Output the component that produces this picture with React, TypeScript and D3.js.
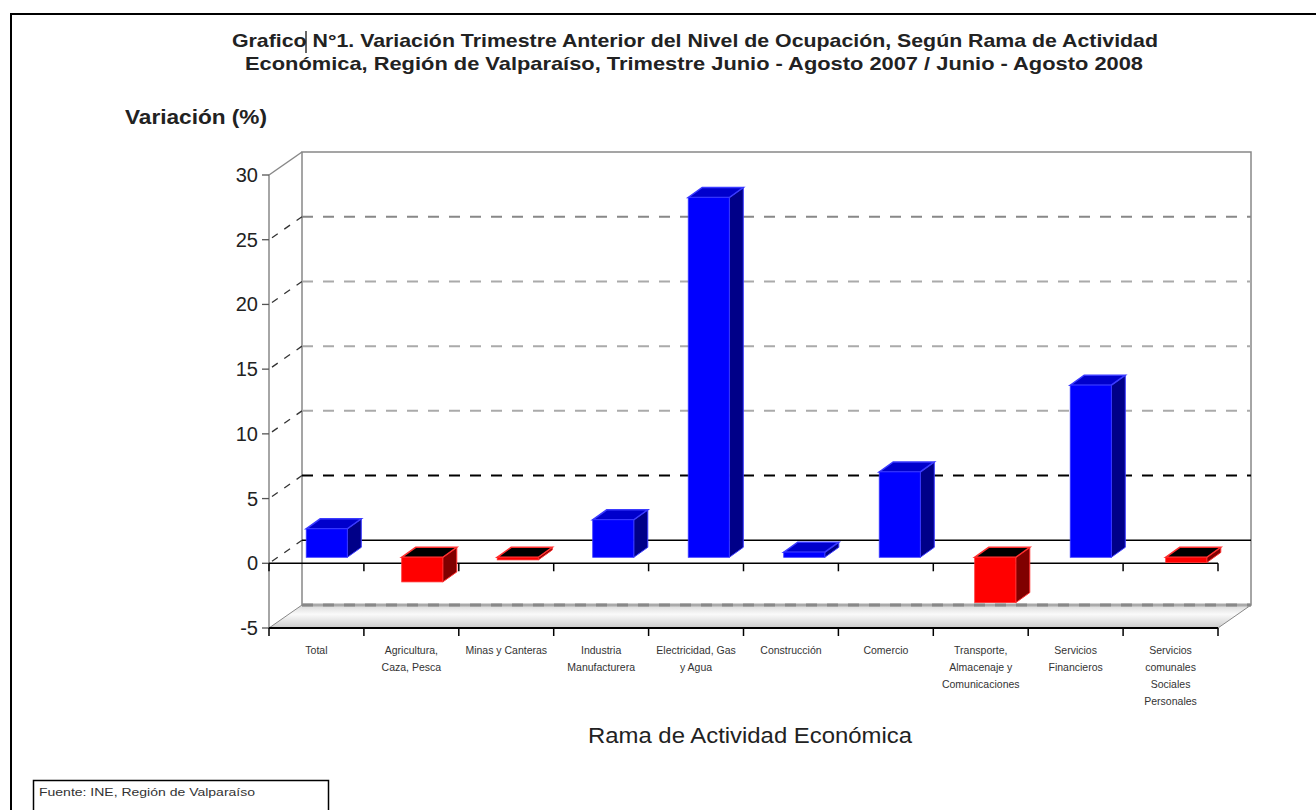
import React from 'react';
import * as d3 from 'd3';

const categories = [
  'Total', 'Agricultura', 'Minas', 'Industria', 'Electricidad',
  'Construccion', 'Comercio', 'Transporte', 'Financieros', 'Comunales',
];
const labelLines = [
  ['Total'],
  ['Agricultura,', 'Caza, Pesca'],
  ['Minas y Canteras'],
  ['Industria', 'Manufacturera'],
  ['Electricidad, Gas', 'y Agua'],
  ['Construcción'],
  ['Comercio'],
  ['Transporte,', 'Almacenaje y', 'Comunicaciones'],
  ['Servicios', 'Financieros'],
  ['Servicios', 'comunales', 'Sociales', 'Personales'],
];
const values = [2.2, -1.9, -0.2, 2.9, 27.8, 0.4, 6.6, -3.5, 13.3, -0.4];
const yTicks = [-5, 0, 5, 10, 15, 20, 25, 30];
const gridLines = [25, 20, 15, 10, 5];
const titleLines = [
  'Grafico N°1. Variación Trimestre Anterior del Nivel de Ocupación, Según Rama de Actividad',
  'Económica, Región de Valparaíso, Trimestre Junio - Agosto 2007 / Junio - Agosto 2008',
];

const FONT = '"Liberation Sans", Arial, sans-serif';
// oblique depth of the 3d box
const DX = 33;
const DY = -23;

export default function App() {
  const y = d3.scaleLinear().domain([-5, 30]).range([628, 175]);
  const x = d3.scaleBand().domain(categories).range([269, 1218]);
  // bars sit a bit into the depth of the box
  const xBar = d3.scaleBand().domain(categories).range([279, 1234]);
  const yBar = (v: number) => y(v) + DY * 0.26;
  const barW = xBar.bandwidth() * 0.43;
  const bdx = 14;
  const bdy = -10;

  const x0 = x.range()[0];
  const x1 = x.range()[1];
  const yTop = y(30);
  const yBot = y(-5);
  const yZero = y(0);
  const ticksX = categories.map((c) => x(c) as number).concat([x1]);

  const pts = (p: number[][]) => p.map((q) => q.join(',')).join(' ');

  return (
    <svg width={1316} height={810} style={{ position: 'absolute', left: 0, top: 0, background: '#fff' }}>
      <defs>
        <linearGradient id="floorGrad" x1="0" y1="0" x2="0" y2="1">
          <stop offset="0%" stopColor="#d8d8d8" />
          <stop offset="40%" stopColor="#fafafa" />
          <stop offset="100%" stopColor="#cccccc" />
        </linearGradient>
      </defs>

      {/* frame */}
      <line x1={10} y1={14} x2={1316} y2={14} stroke="#000" strokeWidth={2} />
      <line x1={11} y1={14} x2={11} y2={810} stroke="#000" strokeWidth={2} />

      {/* title */}
      <text x={232} y={47} fontFamily={FONT} fontSize={18.5} fontWeight="bold" fill="#222"
        textLength={926} lengthAdjust="spacingAndGlyphs">{titleLines[0]}</text>
      <text x={245} y={70} fontFamily={FONT} fontSize={18.5} fontWeight="bold" fill="#222"
        textLength={898} lengthAdjust="spacingAndGlyphs">{titleLines[1]}</text>
      <line x1={306} y1={31} x2={306} y2={53} stroke="#000" strokeWidth={1.2} />

      <text x={125} y={124} fontFamily={FONT} fontSize={20} fontWeight="bold" fill="#222"
        textLength={142} lengthAdjust="spacingAndGlyphs">Variación (%)</text>

      {/* back wall */}
      <rect x={x0 + DX} y={yTop + DY} width={x1 - x0} height={yBot - yTop} fill="#fff" stroke="#888" strokeWidth={1.5} />
      {gridLines.map((v) => (
        <line key={v} x1={x0 + DX} x2={x1 + DX} y1={y(v) + DY} y2={y(v) + DY}
          stroke={v === 5 ? '#000' : v === 25 ? '#888' : '#aaa'} strokeWidth={2} strokeDasharray="11,10" />
      ))}
      <line x1={x0 + DX} x2={x1 + DX} y1={yZero + DY} y2={yZero + DY} stroke="#000" strokeWidth={1.5} />

      {/* left wall */}
      <line x1={x0} y1={yTop} x2={x0 + DX} y2={yTop + DY} stroke="#888" strokeWidth={1.5} />
      <line x1={x0} y1={yTop} x2={x0} y2={yBot} stroke="#888" strokeWidth={1.5} />
      {yTicks.filter((v) => v > -5 && v < 30).map((v) => (
        <line key={v} x1={x0 + 3} y1={y(v) - 2} x2={x0 + DX} y2={y(v) + DY}
          stroke="#333" strokeWidth={1.3} strokeDasharray="7,8" />
      ))}

      {/* floor */}
      <polygon points={pts([[x0, yBot], [x1, yBot], [x1 + DX, yBot + DY], [x0 + DX, yBot + DY]])}
        fill="url(#floorGrad)" stroke="#888" strokeWidth={1} />
      <line x1={x0 + DX} x2={x1 + DX} y1={yBot + DY} y2={yBot + DY} stroke="#aaa" strokeWidth={3} />
      <line x1={x0 + DX} x2={x1 + DX} y1={yBot + DY} y2={yBot + DY} stroke="#888" strokeWidth={3} strokeDasharray="11,10" />

      {/* y ticks */}
      {yTicks.map((v) => (
        <g key={v}>
          <line x1={x0 - 7} x2={x0} y1={y(v)} y2={y(v)} stroke="#555" strokeWidth={1.3} />
          <text x={258} y={y(v) + 7} textAnchor="end" fontFamily={FONT} fontSize={20} fill="#222">{v}</text>
        </g>
      ))}

      {/* front zero axis and bottom axis */}
      <line x1={x0} x2={x1} y1={yZero} y2={yZero} stroke="#000" strokeWidth={1.5} />
      <line x1={x0} x2={x1} y1={yBot} y2={yBot} stroke="#000" strokeWidth={1.8} />
      {ticksX.map((tx, i) => (
        <g key={i}>
          <line x1={tx} x2={tx} y1={yZero} y2={yZero + 8} stroke="#000" strokeWidth={1.5} />
          <line x1={tx} x2={tx} y1={yBot} y2={yBot + 8} stroke="#000" strokeWidth={1.5} />
        </g>
      ))}

      {/* bars */}
      {categories.map((c, i) => {
        const v = values[i];
        const pos = v >= 0;
        const bx0 = (xBar(c) as number) + (xBar.bandwidth() - barW) / 2;
        const bx1 = bx0 + barW;
        const top = Math.min(yBar(0), yBar(v));
        const bot = Math.max(yBar(0), yBar(v));
        const front = pos ? '#0000ff' : '#ff0000';
        const side = pos ? '#000088' : '#800000';
        const lid = pos ? '#0000cc' : '#000000';
        const edge = pos ? '#3a3aff' : '#ff3030';
        return (
          <g key={c}>
            <polygon points={pts([[bx1, top], [bx1 + bdx, top + bdy], [bx1 + bdx, bot + bdy], [bx1, bot]])}
              fill={side} stroke={edge} strokeWidth={1} />
            <polygon points={pts([[bx0, top], [bx1, top], [bx1 + bdx, top + bdy], [bx0 + bdx, top + bdy]])}
              fill={lid} stroke={edge} strokeWidth={1.5} />
            <rect x={bx0} y={top} width={barW} height={Math.max(bot - top, 1)} fill={front} stroke={edge} strokeWidth={0.8} />
          </g>
        );
      })}

      {/* category labels */}
      {categories.map((c, i) => (
        <text key={c} x={(x(c) as number) + x.bandwidth() / 2} y={654} textAnchor="middle"
          fontFamily={FONT} fontSize={10.5} fill="#333">
          {labelLines[i].map((l, j) => (
            <tspan key={j} x={(x(c) as number) + x.bandwidth() / 2} dy={j === 0 ? 0 : 17}>{l}</tspan>
          ))}
        </text>
      ))}

      <text x={588} y={743} fontFamily={FONT} fontSize={22} fill="#222"
        textLength={324} lengthAdjust="spacingAndGlyphs">Rama de Actividad Económica</text>

      {/* source box */}
      <rect x={33.5} y={780.5} width={295} height={40} fill="#fff" stroke="#000" strokeWidth={1.5} />
      <text x={39} y={796} fontFamily={FONT} fontSize={11.5} fill="#333"
        textLength={216} lengthAdjust="spacingAndGlyphs">Fuente: INE, Región de Valparaíso</text>
    </svg>
  );
}
